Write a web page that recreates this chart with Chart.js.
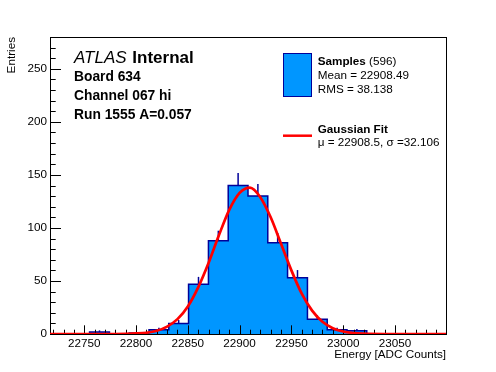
<!DOCTYPE html>
<html>
<head>
<meta charset="utf-8">
<title>Energy histogram</title>
<script src="https://cdn.jsdelivr.net/npm/chart.js@4.4.0/dist/chart.umd.min.js"></script>
<style>
    body { margin: 0; background: #fff; }
    canvas { display: block; }
</style>
</head>
<body>
<canvas id="histChart" width="496" height="372"></canvas>
<script>
// Histogram bin edges (ADC counts), 20 bins
const binEdges = [22716.9, 22736.0, 22755.1, 22774.3, 22793.4, 22812.5, 22831.6,
    22850.7, 22869.9, 22889.0, 22908.1, 22927.2, 22946.3, 22965.5, 22984.6,
    23003.7, 23022.8, 23041.9, 23061.1, 23080.2, 23099.3];

// Entries per bin
const binCounts = [0, 0, 2, 0, 1, 4, 10, 47, 88, 140, 130, 86, 53, 14, 4, 3, 0, 0, 0, 0];

// Gaussian fit curve
const fitX = [22716.9, 22770, 22790, 22800, 22810, 22820, 22830, 22840, 22850, 22860,
    22870, 22880, 22890, 22900, 22910, 22920, 22930, 22940, 22950, 22960,
    22970, 22980, 22990, 23000, 23010, 23020, 23040, 23099.3];
const fitY = [0, 0, 0.2, 0.5, 1.2, 3, 7, 14, 26, 44,
    67, 93, 117, 133, 138, 129, 110, 85, 60, 38,
    22, 11.5, 5.5, 2.4, 0.9, 0.3, 0, 0];

const xTicks = [22750, 22800, 22850, 22900, 22950, 23000, 23050];
const yTicks = [0, 50, 100, 150, 200, 250];
const yMax = 280;

const FONT = '"Liberation Sans", Arial, Helvetica, sans-serif';
const fillBlue = '#0096ff';
const lineBlue = '#000099';
const fitRed = '#ff0000';

// Error bars, axis frame, inward ticks and the text boxes
const decorations = {
    id: 'decorations',
    beforeDatasetsDraw(chart) {
        // error bars go under the fill, only the upper half stays visible
        const ctx = chart.ctx;
        const x = chart.scales.x, y = chart.scales.y;
        ctx.save();
        ctx.strokeStyle = lineBlue;
        ctx.lineWidth = 1.5;
        binCounts.forEach((n, i) => {
            if (n <= 0) return;
            const err = Math.sqrt(n);
            const cx = x.getPixelForValue((binEdges[i] + binEdges[i + 1]) / 2);
            ctx.beginPath();
            ctx.moveTo(cx, y.getPixelForValue(n - err));
            ctx.lineTo(cx, y.getPixelForValue(n + err));
            ctx.stroke();
        });
        ctx.restore();
    },
    afterDatasetDraw(chart, args) {
        if (args.index !== 0) return;
        const ctx = chart.ctx;
        const area = chart.chartArea;
        const x = chart.scales.x, y = chart.scales.y;
        ctx.save();
        ctx.strokeStyle = '#000';
        ctx.lineWidth = 1;
        ctx.strokeRect(Math.round(area.left) + 0.5, Math.round(area.top) + 0.5,
            Math.round(area.right - area.left), Math.round(area.bottom - area.top));

        ctx.beginPath();
        // y axis ticks, every 10, major every 50
        for (let v = 0; v <= yMax; v += 10) {
            const py = Math.round(y.getPixelForValue(v)) + 0.5;
            const len = yTicks.includes(v) ? 11 : 5.7;
            ctx.moveTo(area.left, py);
            ctx.lineTo(area.left + len, py);
        }
        // x axis ticks, every 10, major every 50
        const start = Math.ceil(x.min / 10) * 10;
        for (let v = start; v <= x.max; v += 10) {
            const px = Math.round(x.getPixelForValue(v)) + 0.5;
            const len = v % 50 === 0 ? 8.7 : 4.3;
            ctx.moveTo(px, area.bottom);
            ctx.lineTo(px, area.bottom - len);
        }
        ctx.stroke();
        ctx.restore();
    },
    afterDraw(chart) {
        const ctx = chart.ctx;
        ctx.save();
        ctx.fillStyle = '#000';
        ctx.textBaseline = 'alphabetic';
        ctx.textAlign = 'left';

        ctx.font = 'italic 17px ' + FONT;
        ctx.fillText('ATLAS', 74, 63);
        const aw = ctx.measureText('ATLAS ').width;
        ctx.font = 'bold 17px ' + FONT;
        ctx.fillText('Internal', 74 + aw + 1, 63);

        ctx.font = 'bold 13.8px ' + FONT;
        ctx.fillText('Board 634', 74, 81);
        ctx.fillText('Channel 067 hi', 74, 100);
        ctx.fillText('Run 1555 A=0.057', 74, 119);

        // legend: histogram entry
        ctx.fillStyle = fillBlue;
        ctx.fillRect(283.5, 53.5, 28, 43);
        ctx.strokeStyle = lineBlue;
        ctx.lineWidth = 1;
        ctx.strokeRect(283.5, 53.5, 28, 43);

        ctx.fillStyle = '#000';
        ctx.font = 'bold 11.7px ' + FONT;
        ctx.fillText('Samples', 317.7, 65);
        const sw = ctx.measureText('Samples ').width;
        ctx.font = '11.7px ' + FONT;
        ctx.fillText('(596)', 317.7 + sw, 65);
        ctx.fillText('Mean = 22908.49', 317.7, 79.3);
        ctx.fillText('RMS = 38.138', 317.7, 93.3);

        // legend: fit entry
        ctx.strokeStyle = fitRed;
        ctx.lineWidth = 2.5;
        ctx.beginPath();
        ctx.moveTo(283, 135.7);
        ctx.lineTo(312, 135.7);
        ctx.stroke();

        ctx.font = 'bold 11.7px ' + FONT;
        ctx.fillText('Gaussian Fit', 317.7, 132.7);
        ctx.font = '11.7px ' + FONT;
        ctx.fillText('\u03bc = 22908.5, \u03c3 =32.106', 317.7, 146);
        ctx.restore();
    }
};

const tickFont = { family: FONT, size: 11.7 };

const histPoints = binEdges.map((e, i) => ({ x: e, y: i < binCounts.length ? binCounts[i] : 0 }));
const fitPoints = fitX.map((v, i) => ({ x: v, y: fitY[i] }));

const ctx = document.getElementById('histChart').getContext('2d');
const histChart = new Chart(ctx, {
    type: 'line',
    data: {
        datasets: [{
            label: 'Samples',
            data: histPoints,
            stepped: 'before',
            fill: 'origin',
            backgroundColor: fillBlue,
            borderColor: lineBlue,
            borderWidth: 1.5,
            pointRadius: 0,
            order: 2
        }, {
            label: 'Gaussian Fit',
            data: fitPoints,
            cubicInterpolationMode: 'monotone',
            fill: false,
            borderColor: fitRed,
            borderWidth: 2.7,
            pointRadius: 0,
            order: 1
        }]
    },
    options: {
        responsive: false,
        animation: false,
        layout: { padding: { left: 0, top: 37, right: 50, bottom: 0 } },
        plugins: {
            legend: { display: false },
            tooltip: { enabled: false }
        },
        scales: {
            x: {
                type: 'linear',
                min: binEdges[0],
                max: binEdges[binEdges.length - 1],
                grid: { display: false, drawTicks: false },
                border: { display: false },
                afterBuildTicks: s => { s.ticks = xTicks.map(v => ({ value: v })); },
                afterFit: s => { s.height = 38; },
                ticks: {
                    color: '#000',
                    font: tickFont,
                    padding: 3,
                    maxRotation: 0,
                    autoSkip: false,
                    callback: v => String(v)
                },
                title: {
                    display: true,
                    text: 'Energy [ADC Counts]',
                    align: 'end',
                    color: '#000',
                    font: tickFont,
                    padding: { top: 0, bottom: 10 }
                }
            },
            y: {
                min: 0,
                max: yMax,
                grid: { display: false, drawTicks: false },
                border: { display: false },
                afterBuildTicks: s => { s.ticks = yTicks.map(v => ({ value: v })); },
                afterFit: s => { s.width = 50; },
                ticks: {
                    color: '#000',
                    font: tickFont,
                    padding: 3,
                    callback: v => String(v)
                },
                title: {
                    display: true,
                    text: 'Entries',
                    align: 'end',
                    color: '#000',
                    font: tickFont,
                    padding: { top: 5, bottom: 0 }
                }
            }
        }
    },
    plugins: [decorations]
});
</script>
</body>
</html>
